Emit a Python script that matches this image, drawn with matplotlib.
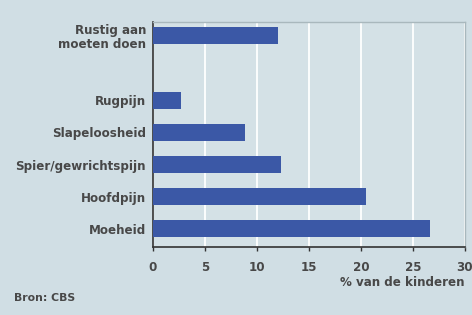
import matplotlib
matplotlib.use("Agg")
import matplotlib.pyplot as plt

# ---- data ----
labels = ["Moeheid", "Hoofdpijn", "Spier/gewrichtspijn", "Slapeloosheid", "Rugpijn",
          "Rustig aan\nmoeten doen"]
values = [26.6, 20.5, 12.3, 8.9, 2.7, 12.0]
positions = [0, 1, 2, 3, 4, 6]
xticks = [0, 5, 10, 15, 20, 25, 30]

BG = "#d0dee4"
BAR = "#3b58a6"
TXT = "#484848"
FS = 8.6

fig = plt.figure(figsize=(4.72, 3.15), dpi=100, facecolor=BG)
ax = fig.add_axes([0.324, 0.216, 0.661, 0.714])
ax.set_facecolor("#d4e1e6")

ax.barh(positions, values, height=0.53, color=BAR, zorder=3)
ax.set_xlim(0, 30)
ax.set_ylim(-0.56, 6.43)
ax.set_xticks(xticks)
ax.set_xticklabels([str(t) for t in xticks], fontsize=FS, color=TXT, fontweight="bold")
ax.set_yticks(positions)
ax.set_yticklabels(labels, fontsize=FS, color=TXT, fontweight="bold", linespacing=1.05)
ax.tick_params(axis="y", length=0, pad=5)
ax.tick_params(axis="x", length=3, width=1, color="#333333", pad=7)
ax.grid(axis="x", color="white", lw=1.3, zorder=1)

for s in ["top", "right"]:
    ax.spines[s].set_color("#a9b8bd")
    ax.spines[s].set_linewidth(1)
for s in ["left", "bottom"]:
    ax.spines[s].set_color("#333333")
    ax.spines[s].set_linewidth(1.2)

fig.text(0.985, 0.103, "% van de kinderen", ha="right", va="center", fontsize=FS,
         color=TXT, fontweight="bold")
fig.text(0.03, 0.054, "Bron: CBS", ha="left", va="center", fontsize=7.8, color=TXT,
         fontweight="bold")

fig.savefig("out.png", dpi=100, facecolor=BG)
